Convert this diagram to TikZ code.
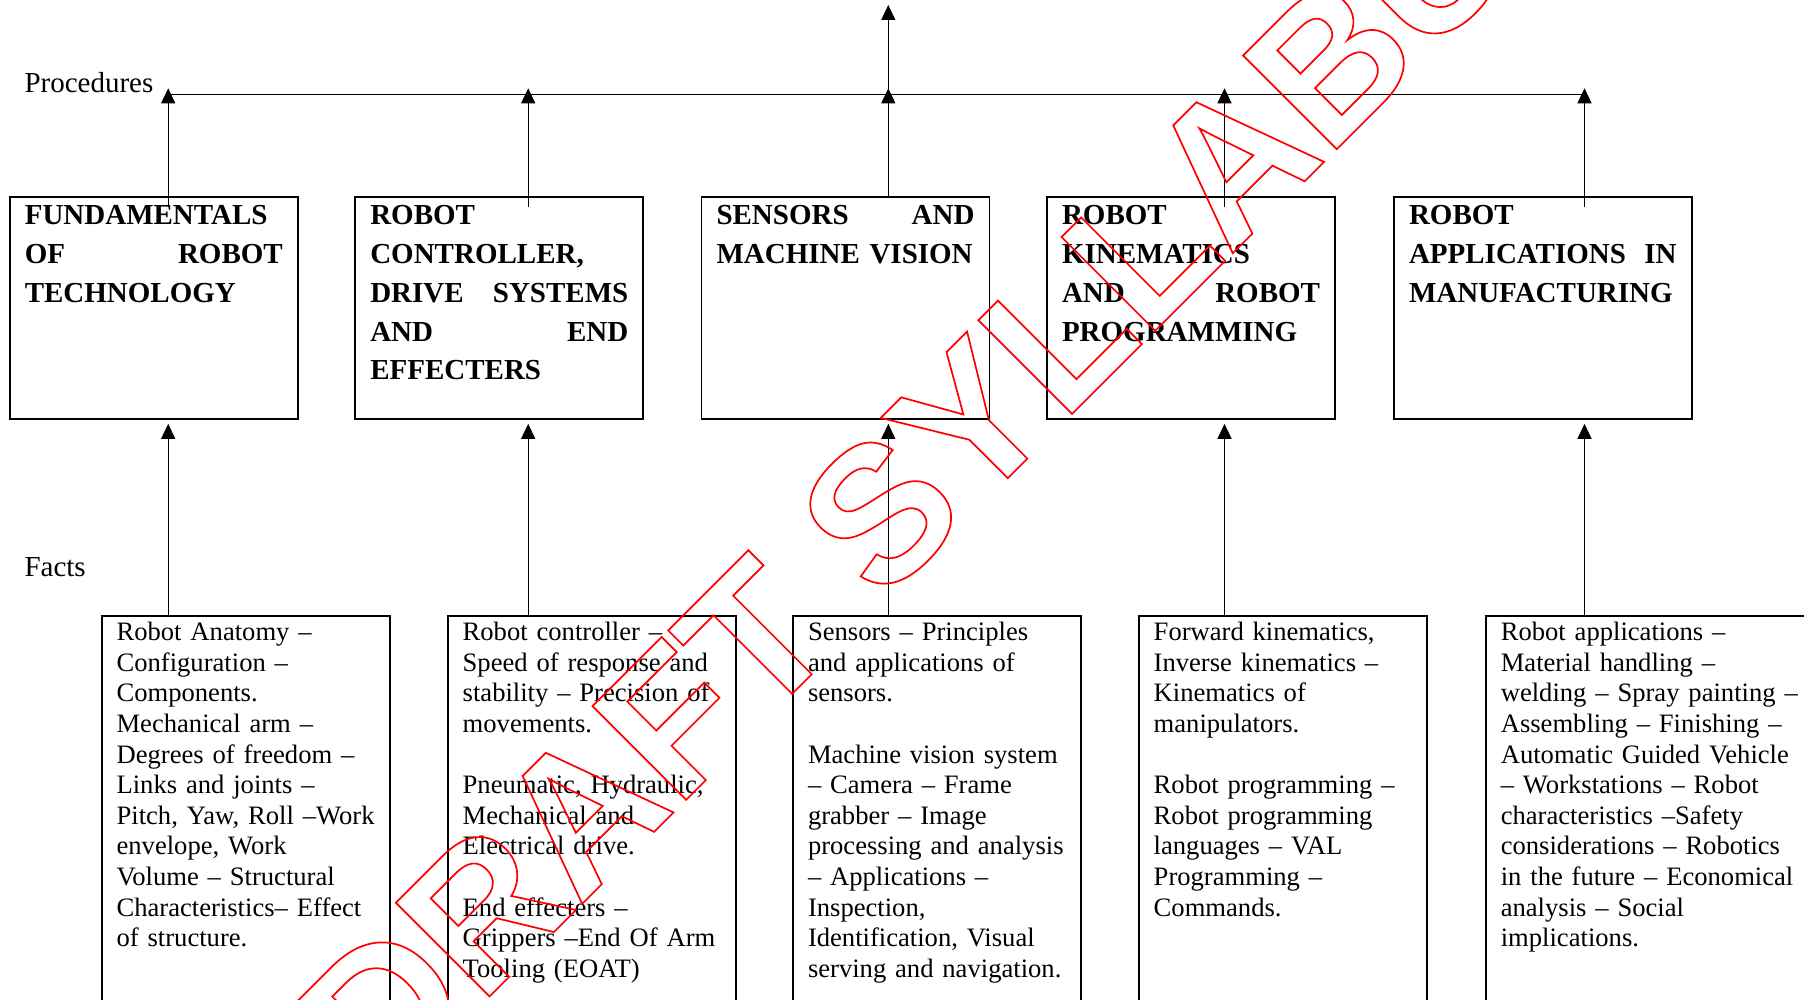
\documentclass[tikz,border=0pt]{standalone}
\usepackage{fontspec}
\setmainfont{Liberation Serif}
\newfontfamily\wmfont{Liberation Sans}
\usetikzlibrary{arrows.meta}

% stroked (outline-only) text for the watermark
\newcommand{\outlinetext}[1]{\special{pdf:literal direct 1 0 0 RG 1.7 w 1 Tr}#1\special{pdf:literal direct 0 Tr}}
% ragged lines that may run slightly past the right margin instead of wrapping
\newcommand{\ragfit}{\rightskip=0pt plus 1fil minus 12pt\relax}

\begin{document}
\begin{tikzpicture}[x=1pt,y=-1pt,
  procbox/.style={draw, line width=1.8pt, anchor=north west, inner xsep=15pt,
    inner ysep=0pt, outer sep=0pt, text width=258pt,
    font=\bfseries\fontsize{29}{38.7}\selectfont,
    text height=28.3pt, text depth=193.8pt},
  factbox/.style={draw, line width=1.8pt, anchor=north west, inner xsep=15pt,
    inner ysep=0pt, outer sep=0pt, text width=258pt,
    font=\fontsize{26.6}{30.6}\selectfont,
    text height=25pt, text depth=420pt},
  conn/.style={line width=1.2pt, -{Triangle[length=15pt,width=14pt]}},
  bus/.style={line width=1.3pt},
  rowlabel/.style={anchor=base west, inner sep=0pt, font=\fontsize{29}{34}\selectfont},
  watermark/.style={anchor=base west, inner sep=0pt, rotate=45, text=red,
    font=\wmfont\bfseries\fontsize{192.6}{200}\selectfont}
]
\useasboundingbox (0,0) rectangle (1804,1000);

% ---- procedure boxes ----
\node[procbox] (p1) at (9.8,196.7) {\ragfit FUNDAMENTALS\\OF\hfill ROBOT\\TECHNOLOGY};
\node[procbox] (p2) at (355.3,196.7) {\ragfit ROBOT\\CONTROLLER,\\DRIVE\hfill SYSTEMS\\AND\hfill END\\EFFECTERS};
\node[procbox] (p3) at (701.5,196.7) {\ragfit SENSORS\hfill AND\\MACHINE VISION};
\node[procbox] (p4) at (1047,196.7) {\ragfit ROBOT\\KINEMATICS\\AND\hfill ROBOT\\PROGRAMMING};
\node[procbox, text width=267.6pt] (p5) at (1394,196.7) {\ragfit ROBOT\\APPLICATIONS\hfill IN\\MANUFACTURING};

% ---- fact boxes ----
\node[factbox] (f1) at (101.6,615.7) {\ragfit Robot Anatomy –\\Configuration –\\Components.\\Mechanical arm –\\Degrees of freedom –\\Links and joints –\\Pitch, Yaw, Roll –Work\\envelope, Work\\Volume – Structural\\Characteristics– Effect\\of structure.};
\node[factbox] (f2) at (447.7,615.7) {\ragfit Robot controller –\\Speed of response and\\stability – Precision of\\movements.\\[30.6pt]Pneumatic, Hydraulic,\\Mechanical and\\Electrical drive.\\[30.6pt]End effecters –\\Grippers –End Of Arm\\Tooling (EOAT)};
\node[factbox] (f3) at (793,615.7) {\ragfit Sensors – Principles\\and applications of\\sensors.\\[30.6pt]Machine vision system\\– Camera – Frame\\grabber – Image\\processing and analysis\\– Applications –\\Inspection,\\Identification, Visual\\serving and navigation.};
\node[factbox] (f4) at (1138.7,615.7) {\ragfit Forward kinematics,\\Inverse kinematics –\\Kinematics of\\manipulators.\\[30.6pt]Robot programming –\\Robot programming\\languages – VAL\\Programming –\\Commands.};
\node[factbox, text width=300pt] (f5) at (1485.8,615.7) {\ragfit Robot applications –\\Material handling –\\welding – Spray painting –\\Assembling – Finishing –\\Automatic Guided Vehicle\\– Workstations – Robot\\characteristics –Safety\\considerations – Robotics\\in the future – Economical\\analysis – Social\\implications.};

% ---- row labels ----
\node[rowlabel] (procl) at (24.3,92.3) {Procedures};
\node[rowlabel] (factl) at (24.3,576.7) {Facts};

% ---- bus and junction points ----
\coordinate (a1) at (168.2,94.3);
\coordinate (a2) at (528.2,94.3);
\coordinate (a3) at (888.3,94.3);
\coordinate (a4) at (1224.5,94.3);
\coordinate (a5) at (1584.5,94.3);
\coordinate (apex) at (888.3,5);
\draw[bus] (a1) -- (a5);

% ---- procedures feed the bus ----
\draw[conn, shorten <=-10pt, shorten >=-6pt] (p1.north -| a1) -- (a1);
\draw[conn, shorten <=-10pt, shorten >=-6pt] (p2.north -| a2) -- (a2);
\draw[conn, shorten >=-6pt] (p3.north -| a3) -- (a3);
\draw[conn, shorten <=-10pt, shorten >=-6pt] (p4.north -| a4) -- (a4);
\draw[conn, shorten <=-10pt, shorten >=-6pt] (p5.north -| a5) -- (a5);
\draw[conn] (a3) -- (apex);

% ---- facts feed the procedures ----
\draw[conn, shorten >=5pt] (f1.north -| a1) -- (p1.south -| a1);
\draw[conn, shorten >=5pt] (f2.north -| a2) -- (p2.south -| a2);
\draw[conn, shorten >=5pt] (f3.north -| a3) -- (p3.south -| a3);
\draw[conn, shorten >=5pt] (f4.north -| a4) -- (p4.south -| a4);
\draw[conn, shorten >=5pt] (f5.north -| a5) -- (p5.south -| a5);

% ---- watermark ----
\node[watermark] (wm) at (382,1104) {\outlinetext{DRAFT SYLLABUS}};
\end{tikzpicture}
\end{document}
